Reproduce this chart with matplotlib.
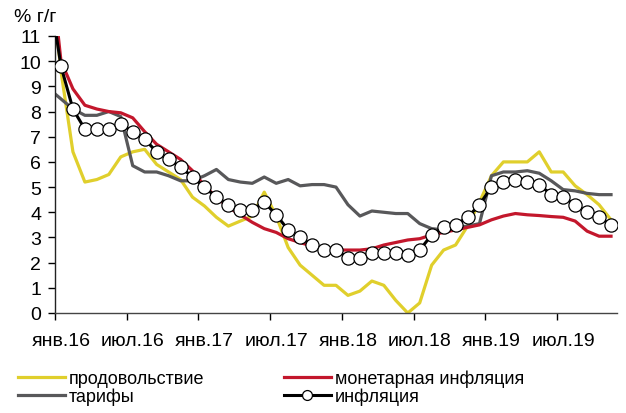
import matplotlib
matplotlib.use("Agg")
import matplotlib.pyplot as plt
import numpy as np

plt.rcParams['font.family'] = ['Liberation Sans', 'DejaVu Sans']

# Monthly data, Dec 2015 .. Nov 2019 (% y/y)
food = [14.0, 9.6, 6.4, 5.2, 5.3, 5.5, 6.2, 6.4, 6.5, 5.9, 5.6, 5.3, 4.6,
        4.25, 3.8, 3.45, 3.65, 3.85, 4.8, 3.85, 2.6, 1.9, 1.5, 1.1, 1.1,
        0.7, 0.87, 1.27, 1.1, 0.5, 0.0, 0.4, 1.9, 2.5, 2.7, 3.45, 4.4,
        5.45, 6.0, 6.0, 6.0, 6.4, 5.6, 5.6, 5.05, 4.7, 4.3, 3.7]
tariffs = [8.9, 8.5, 8.1, 7.85, 7.85, 8.0, 7.8, 5.85, 5.6, 5.6, 5.45, 5.25,
           5.25, 5.45, 5.7, 5.3, 5.2, 5.15, 5.4, 5.15, 5.3, 5.05, 5.1, 5.1,
           5.0, 4.3, 3.85, 4.05, 4.0, 3.95, 3.95, 3.55, 3.35, 3.3, 3.4,
           3.45, 3.55, 5.45, 5.6, 5.6, 5.65, 5.55, 5.25, 4.9, 4.85, 4.75,
           4.7, 4.7]
monetary = [14.4, 10.0, 8.9, 8.25, 8.1, 8.0, 7.95, 7.75, 7.2, 6.7, 6.4, 6.1,
            5.65, 5.05, 4.6, 4.2, 3.9, 3.6, 3.35, 3.2, 2.95, 2.8, 2.65, 2.55,
            2.5, 2.5, 2.5, 2.55, 2.7, 2.8, 2.9, 2.95, 3.1, 3.2, 3.3, 3.4,
            3.5, 3.7, 3.85, 3.95, 3.9, 3.87, 3.83, 3.8, 3.65, 3.25, 3.05,
            3.05]
inflation = [12.9, 9.8, 8.1, 7.3, 7.3, 7.3, 7.5, 7.2, 6.9, 6.4, 6.1, 5.8,
             5.4, 5.0, 4.6, 4.3, 4.1, 4.1, 4.4, 3.9, 3.3, 3.0, 2.7, 2.5, 2.5,
             2.2, 2.2, 2.4, 2.4, 2.4, 2.3, 2.5, 3.1, 3.4, 3.5, 3.8, 4.3, 5.0,
             5.2, 5.3, 5.2, 5.1, 4.7, 4.6, 4.3, 4.0, 3.8, 3.5]
tick_labels = ['янв.16', 'июл.16', 'янв.17', 'июл.17',
               'янв.18', 'июл.18', 'янв.19', 'июл.19']
names = ['продовольствие', 'тарифы', 'монетарная инфляция', 'инфляция']

x = np.arange(len(inflation)) - 1  # Dec 2015 = -1, Jan 2016 = 0

W, H = 626, 414
fig = plt.figure(figsize=(W/100, H/100), dpi=100)
ax = fig.add_axes([55/W, 1-314/H, (617-55)/W, (314-37)/H])

YEL = '#E0CF2C'
GRY = '#58585A'
RED = '#C3172C'

l_food, = ax.plot(x, food, color=YEL, lw=2.3, zorder=2, label=names[0])
l_tar, = ax.plot(x, tariffs, color=GRY, lw=2.3, zorder=2, label=names[1])
l_mon, = ax.plot(x, monetary, color=RED, lw=2.3, zorder=3, label=names[2])
l_inf, = ax.plot(x, inflation, color='black', lw=2.2, marker='o', ms=9.5,
                 mfc='white', mec='black', mew=0.9, zorder=4, label=names[3])

ax.set_xlim(-0.5, 46.5)
ax.set_ylim(0, 11)
ax.set_yticks(range(0, 12))
ax.tick_params(axis='y', labelsize=14, length=5, width=1, direction='out', pad=5)

ax.set_xticks(np.arange(-0.5, 46, 6))
ax.set_xticklabels([])
ax.set_xticks(np.arange(0, 46, 6), minor=True)
ax.set_xticklabels(tick_labels, minor=True)
ax.tick_params(axis='x', which='major', length=5, width=1, direction='out')
ax.tick_params(axis='x', which='minor', length=0, labelsize=14, pad=14)

for s in ['top', 'right']:
    ax.spines[s].set_visible(False)
ax.spines['left'].set_color('#222222')
ax.spines['bottom'].set_color('#444444')
ax.spines['left'].set_linewidth(1)
ax.spines['bottom'].set_linewidth(1)

fig.text(14/W, 1-18/H, '% г/г', fontsize=14, va='center', ha='left')

leg_kw = dict(loc='lower left', frameon=False, fontsize=13, handlelength=2.6,
              handletextpad=0.2, labelspacing=0.0, borderaxespad=0.0,
              borderpad=0.0, markerscale=0.75)
leg1 = fig.legend(handles=[l_food, l_tar], labels=names[:2],
                  bbox_to_anchor=(18/W, 8/H), **leg_kw)
leg2 = fig.legend(handles=[l_mon, l_inf], labels=names[2:],
                  bbox_to_anchor=(284/W, 8/H), **leg_kw)

fig.savefig('out.png', dpi=100)
